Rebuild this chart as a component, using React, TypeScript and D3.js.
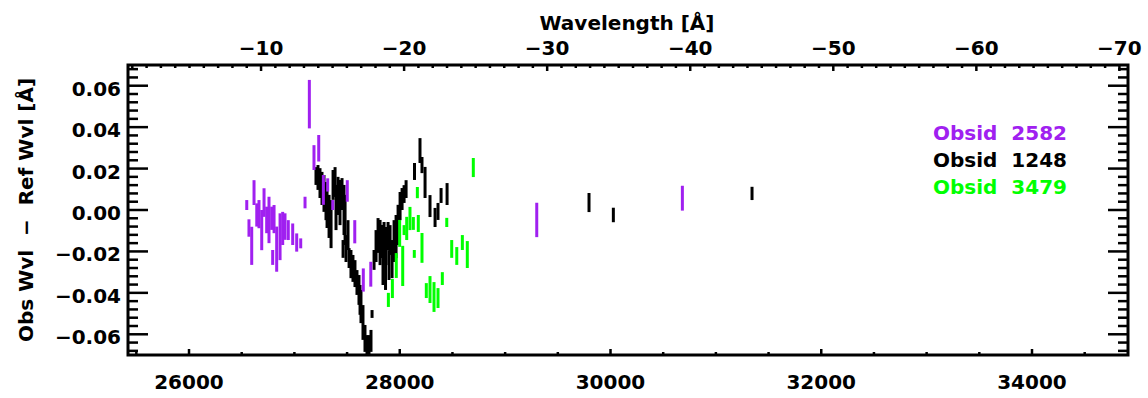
import React from "react";
import * as d3 from "d3";

const W = 1148;
const H = 398;
const PLOT = { left: 128, right: 1128, top: 65, bottom: 355 };

// Obsid 2582 (purple): line wavelength, observed - reference offset, 1-sigma error
const purpleX = [26548, 26569, 26595, 26617, 26643, 26664, 26690, 26712, 26737, 26759, 26785, 26794, 26807, 26832, 26864, 26889, 26911, 26942, 26984, 27022, 27060, 27101, 27142, 27186, 27231, 27275, 27316, 27364, 27502, 27573, 27654, 27725, 29300, 30682];
const purpleY = [0.0024, -0.0087, -0.0173, 0.0084, -0.0024, -0.002, -0.0097, 0.0036, -0.0048, -0.0048, -0.004, -0.0229, -0.0044, -0.0189, -0.0129, -0.0089, -0.008, -0.0097, -0.0117, -0.0157, -0.0161, 0.0036, 0.0511, 0.0253, 0.0298, 0.0097, 0.0121, 0.0024, 0.0092, -0.0105, -0.0338, -0.031, -0.0048, 0.0057];
const purpleErr = [0.0024, 0.0042, 0.0092, 0.006, 0.0056, 0.0068, 0.0097, 0.0069, 0.0064, 0.0112, 0.0056, 0.0036, 0.0068, 0.0109, 0.0113, 0.008, 0.0064, 0.0048, 0.0052, 0.0044, 0.0024, 0.0028, 0.0117, 0.006, 0.0064, 0.0072, 0.0032, 0.0024, 0.0052, 0.0056, 0.0056, 0.006, 0.0083, 0.006];

// Obsid 1248 (black)
const blackX = [27205, 27224, 27243, 27262, 27281, 27300, 27310, 27329, 27348, 27367, 27386, 27395, 27414, 27433, 27452, 27462, 27471, 27481, 27490, 27509, 27519, 27537, 27556, 27575, 27594, 27613, 27623, 27632, 27651, 27670, 27689, 27708, 27727, 27737, 27756, 27775, 27794, 27813, 27827, 27841, 27851, 27865, 27870, 27889, 27898, 27908, 27927, 27946, 27965, 27984, 28003, 28022, 28041, 28060, 28140, 28192, 28211, 28240, 28287, 28335, 28363, 28392, 28449, 29796, 30027, 31343];
const blackY = [0.0164, 0.0157, 0.013, 0.0104, 0.008, 0.0043, 0.0005, -0.0031, -0.0068, 0.0121, 0.0135, 0.0012, 0.0068, 0.0036, 0.0077, -0.0188, 0.0, -0.0048, -0.0186, -0.0121, -0.0232, -0.0261, -0.0282, -0.0307, -0.035, -0.0386, -0.0434, -0.0466, -0.0543, -0.062, -0.0652, -0.0652, -0.0632, -0.0502, -0.0241, -0.0174, -0.0123, -0.0157, -0.0152, -0.0278, -0.015, -0.0302, -0.0174, -0.0126, -0.0266, -0.0145, -0.0237, -0.015, -0.0128, -0.0072, 0.0019, 0.0053, 0.0077, 0.0101, 0.0186, 0.0287, 0.0217, 0.0133, 0.0019, -0.0036, -0.0007, 0.007, 0.0077, 0.0036, -0.0024, 0.008];
const blackErr = [0.0043, 0.006, 0.0072, 0.008, 0.0089, 0.0092, 0.0092, 0.0104, 0.0116, 0.0072, 0.0072, 0.0109, 0.0092, 0.0109, 0.0077, 0.0043, 0.0121, 0.0121, 0.0065, 0.0072, 0.0048, 0.0068, 0.0065, 0.0065, 0.006, 0.0072, 0.0072, 0.008, 0.0084, 0.0065, 0.0048, 0.0048, 0.0053, 0.0019, 0.0048, 0.0077, 0.0084, 0.0109, 0.008, 0.0084, 0.0092, 0.0084, 0.0092, 0.0068, 0.0072, 0.0072, 0.0092, 0.0101, 0.0104, 0.0097, 0.0068, 0.0053, 0.0043, 0.0043, 0.0041, 0.006, 0.0039, 0.0075, 0.0053, 0.0046, 0.0041, 0.0036, 0.0053, 0.0046, 0.0035, 0.0032];

// Obsid 3479 (green)
const greenX = [27892, 27930, 27967, 27999, 28028, 28041, 28066, 28097, 28129, 28138, 28167, 28176, 28211, 28252, 28287, 28325, 28363, 28404, 28446, 28493, 28541, 28594, 28641, 28698];
const greenY = [-0.0434, -0.0379, -0.0268, -0.0113, -0.027, -0.0097, -0.0089, -0.0041, -0.0065, -0.0212, 0.0084, -0.0065, -0.0183, -0.0389, -0.0384, -0.042, -0.0425, -0.0331, -0.006, -0.0188, -0.0222, -0.0157, -0.0215, 0.0205];
const greenErr = [0.0034, 0.0046, 0.006, 0.0065, 0.0097, 0.0024, 0.0056, 0.0056, 0.0031, 0.0019, 0.0027, 0.0041, 0.0072, 0.0036, 0.0065, 0.0072, 0.0048, 0.0031, 0.0022, 0.0043, 0.0043, 0.0036, 0.0065, 0.0046];

const legendLabels = ["Obsid 2582", "Obsid 1248", "Obsid 3479"];
const legendColors = ["#a020f0", "#000000", "#00ff00"];

const xTickValues = [26000, 28000, 30000, 32000, 34000];
const yTickValues = [-0.06, -0.04, -0.02, 0.0, 0.02, 0.04, 0.06];
const topTickValues = [-10, -20, -30, -40, -50, -60, -70];

const FONT = "'DejaVu Sans', sans-serif";
const fmtMinus = (s: string) => s.replace("-", "\u2212");

export default function App() {
  const x = d3.scaleLinear().domain([25421, 34911]).range([PLOT.left, PLOT.right]);
  const y = d3.scaleLinear().domain([-0.07, 0.07]).range([PLOT.bottom, PLOT.top]);
  const xTop = d3.scaleLinear().domain([-0.7, -70.6]).range([PLOT.left, PLOT.right]);

  const xMinor = d3.range(25500, 34911, 500).filter((v) => v % 2000 !== 0);
  const yMinor = d3.range(-68, 69, 4).map((v) => v / 1000).filter((v) => Math.round(v * 1000) % 20 !== 0);
  const topMinor = d3.range(-1, -71, -1).filter((v) => v % 10 !== 0);

  const series = [
    { xs: blackX, ys: blackY, es: blackErr, color: legendColors[1] },
    { xs: purpleX, ys: purpleY, es: purpleErr, color: legendColors[0] },
    { xs: greenX, ys: greenY, es: greenErr, color: legendColors[2] },
  ];

  const fmtY = d3.format(".2f");

  return (
    <svg
      width={W}
      height={H}
      style={{ position: "absolute", left: 0, top: 0, background: "#fff" }}
      fontFamily={FONT}
      fontWeight="bold"
    >
      <rect width={W} height={H} fill="#fff" />
      <defs>
        <clipPath id="plotClip">
          <rect x={PLOT.left} y={PLOT.top} width={PLOT.right - PLOT.left} height={PLOT.bottom - PLOT.top} />
        </clipPath>
      </defs>

      {/* error bars */}
      <g clipPath="url(#plotClip)">
        {series.map((s, si) => (
          <g key={si} stroke={s.color} strokeWidth={3}>
            {s.xs.map((xv, i) => (
              <line key={i} x1={x(xv)} x2={x(xv)} y1={y(s.ys[i] - s.es[i])} y2={y(s.ys[i] + s.es[i])} />
            ))}
          </g>
        ))}
      </g>

      {/* frame */}
      <rect
        x={PLOT.left}
        y={PLOT.top}
        width={PLOT.right - PLOT.left}
        height={PLOT.bottom - PLOT.top}
        fill="none"
        stroke="#000"
        strokeWidth={3}
      />

      {/* bottom axis ticks */}
      <g stroke="#000" strokeWidth={2.5}>
        {xTickValues.map((v) => (
          <line key={"xb" + v} x1={x(v)} x2={x(v)} y1={PLOT.bottom} y2={PLOT.bottom - 6} />
        ))}
        {xMinor.map((v) => (
          <line key={"xbm" + v} x1={x(v)} x2={x(v)} y1={PLOT.bottom} y2={PLOT.bottom - 3} />
        ))}
        {topTickValues.map((v) => (
          <line key={"xt" + v} x1={xTop(v)} x2={xTop(v)} y1={PLOT.top} y2={PLOT.top + 6} />
        ))}
        {topMinor.map((v) => (
          <line key={"xtm" + v} x1={xTop(v)} x2={xTop(v)} y1={PLOT.top} y2={PLOT.top + 3} />
        ))}
        {yTickValues.map((v) => (
          <g key={"y" + v}>
            <line x1={PLOT.left} x2={PLOT.left + 20} y1={y(v)} y2={y(v)} />
            <line x1={PLOT.right} x2={PLOT.right - 20} y1={y(v)} y2={y(v)} />
          </g>
        ))}
        {yMinor.map((v) => (
          <g key={"ym" + v}>
            <line x1={PLOT.left} x2={PLOT.left + 10} y1={y(v)} y2={y(v)} />
            <line x1={PLOT.right} x2={PLOT.right - 10} y1={y(v)} y2={y(v)} />
          </g>
        ))}
      </g>

      {/* tick labels */}
      <g fontSize={20} fill="#000">
        {xTickValues.map((v) => (
          <text key={"lx" + v} x={x(v)} y={389} textAnchor="middle">
            {String(v)}
          </text>
        ))}
        {topTickValues.map((v) => (
          <text key={"lt" + v} x={xTop(v)} y={55} textAnchor="middle">
            {fmtMinus(String(v))}
          </text>
        ))}
        {yTickValues.map((v) => (
          <text key={"ly" + v} x={121} y={y(v) + 10} textAnchor="end">
            {fmtMinus(fmtY(Math.abs(v) < 1e-9 ? 0 : v))}
          </text>
        ))}
      </g>

      {/* axis titles */}
      <text x={627} y={30} textAnchor="middle" fontSize={20}>
        Wavelength [Å]
      </text>
      <text
        transform={`translate(33, ${(PLOT.top + PLOT.bottom) / 2}) rotate(-90)`}
        textAnchor="middle"
        fontSize={20}
        style={{ whiteSpace: "pre" }}
      >
        {"Obs Wvl  \u2212  Ref Wvl [Å]"}
      </text>

      {/* legend */}
      <g fontSize={20}>
        {legendLabels.map((t, i) => (
          <text key={t} x={933} y={140 + i * 27} fill={legendColors[i]} style={{ whiteSpace: "pre" }}>
            {t.replace(" ", "  ")}
          </text>
        ))}
      </g>
    </svg>
  );
}
